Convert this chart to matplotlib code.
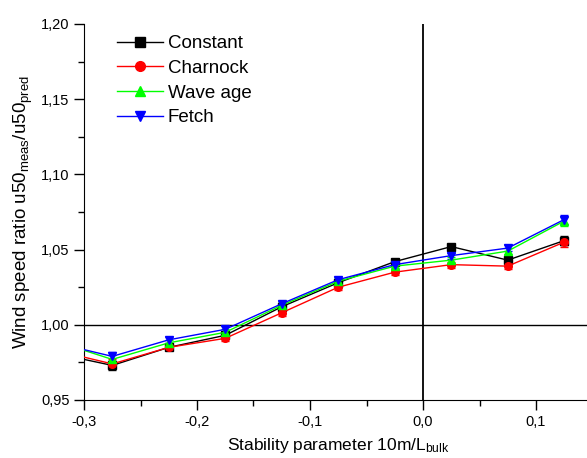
import numpy as np
import matplotlib
matplotlib.use("Agg")
import matplotlib.pyplot as plt
from matplotlib.lines import Line2D
from matplotlib.ticker import MultipleLocator, FuncFormatter

plt.rcParams['font.family'] = ['Liberation Sans', 'DejaVu Sans']
plt.rcParams['mathtext.fontset'] = 'custom'
plt.rcParams['mathtext.rm'] = 'Liberation Sans'
plt.rcParams['mathtext.it'] = 'Liberation Sans'

# bin centres of stability parameter (first one lies outside the plotted range)
x = [-0.325, -0.275, -0.225, -0.175, -0.125, -0.075, -0.025, 0.025, 0.075, 0.125]

constant = [0.981, 0.973, 0.985, 0.993, 1.012, 1.028, 1.042, 1.052, 1.043, 1.056]
charnock = [0.983, 0.974, 0.985, 0.991, 1.008, 1.025, 1.035, 1.040, 1.039, 1.055]
wave_age = [0.989, 0.977, 0.988, 0.995, 1.013, 1.029, 1.039, 1.043, 1.049, 1.069]
fetch    = [0.988, 0.979, 0.990, 0.997, 1.014, 1.030, 1.040, 1.046, 1.051, 1.070]

err_constant = [0.003, 0.003, 0.002, 0.002, 0.002, 0.002, 0.002, 0.002, 0.002, 0.003]
err_charnock = [0.003, 0.003, 0.002, 0.002, 0.002, 0.002, 0.002, 0.002, 0.002, 0.003]
err_wave_age = [0.003, 0.003, 0.002, 0.002, 0.002, 0.002, 0.002, 0.002, 0.002, 0.003]
err_fetch    = [0.003, 0.003, 0.002, 0.002, 0.002, 0.002, 0.002, 0.002, 0.002, 0.003]

fig = plt.figure(figsize=(5.87, 4.58), dpi=100)
ax = fig.add_axes([84 / 587, 1 - 400 / 458, (592.5 - 84) / 587, 376 / 458])

series = [
    ("Constant", constant, err_constant, 'black', 's'),
    ("Charnock", charnock, err_charnock, 'red', 'o'),
    ("Wave age", wave_age, err_wave_age, '#00ff00', '^'),
    ("Fetch", fetch, err_fetch, 'blue', 'v'),
]

ax.axhline(1.0, color='black', lw=1, zorder=1)
ax.axvline(0.0, color='black', lw=1.3, zorder=1)

handles = []
for name, vals, err, col, mk in series:
    ax.errorbar(x, vals, yerr=err, color=col, marker=mk, ms=5.5, lw=1,
                capsize=3, elinewidth=1, capthick=1, zorder=3)
    handles.append(Line2D([], [], color=col, marker=mk, ms=7, lw=1, label=name))

ax.set_xlim(-0.3, 0.15)
ax.set_ylim(0.95, 1.20)
ax.xaxis.set_major_locator(MultipleLocator(0.1))
ax.xaxis.set_minor_locator(MultipleLocator(0.05))
ax.yaxis.set_major_locator(MultipleLocator(0.05))
ax.yaxis.set_minor_locator(MultipleLocator(0.025))
ax.xaxis.set_major_formatter(FuncFormatter(lambda v, p: f"{v:.1f}".replace('.', ',')))
ax.yaxis.set_major_formatter(FuncFormatter(lambda v, p: f"{v:.2f}".replace('.', ',')))
ax.tick_params(which='major', direction='out', length=7, width=1, labelsize=10.5)
ax.tick_params(which='minor', direction='out', length=4, width=1)

ax.spines['top'].set_visible(False)
ax.spines['right'].set_visible(False)

ax.set_xlabel(r"Stability parameter 10m/L$_{\mathrm{bulk}}$", fontsize=12.5, labelpad=5)
ax.set_ylabel(r"Wind speed ratio u50$_{\mathrm{meas}}$/u50$_{\mathrm{pred}}$", fontsize=13.5, labelpad=4)

ax.legend(handles=handles, loc='upper left', bbox_to_anchor=(0.05, 0.99), frameon=False,
          fontsize=13.5, handlelength=2.45, labelspacing=0.4, borderaxespad=0,
          handletextpad=0.25)

fig.savefig("out.png", dpi=100)
